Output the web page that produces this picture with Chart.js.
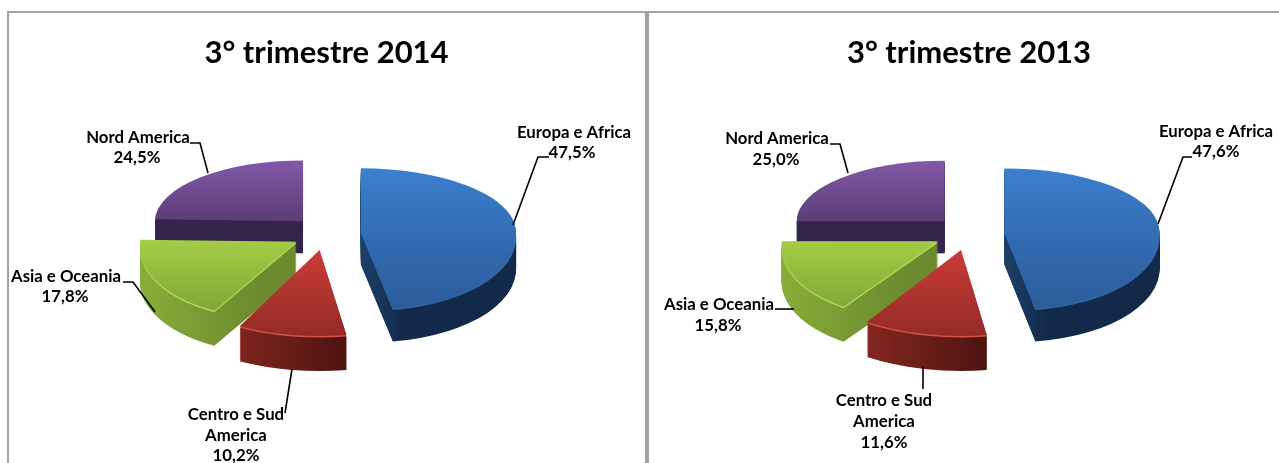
<!DOCTYPE html>
<html><head><meta charset="utf-8">
<style>
html,body{margin:0;padding:0;background:#fff;width:1279px;height:463px;overflow:hidden}
canvas{position:absolute;top:0}
.rule{position:absolute;background:#a3a3a3}
</style>
<script src="https://cdn.jsdelivr.net/npm/chart.js@4/dist/chart.umd.min.js"></script>
</head><body>
<div class="rule" style="left:7px;top:11px;width:2px;height:452px"></div>
<div class="rule" style="left:7px;top:11px;width:1272px;height:2px"></div>
<div class="rule" style="left:645px;top:11px;width:4px;height:452px"></div>
<canvas id="a" style="left:0"></canvas>
<canvas id="b" style="left:659px"></canvas>
<script>
// ---- data ----
const categories = ['Europa e Africa', 'Centro e Sud America', 'Asia e Oceania', 'Nord America'];
const values2014 = [47.5, 10.2, 17.8, 24.5];
const values2013 = [47.6, 11.6, 15.8, 25.0];
const title2014 = '3° trimestre 2014';
const title2013 = '3° trimestre 2013';
const labelLines = [['Europa e Africa'], ['Centro e Sud', 'America'], ['Asia e Oceania'], ['Nord America']];

// ---- styling / layout ----
const FONT = 'Lato, "Open Sans", sans-serif';
const topColors = [['#3b7fcf', '#2c5c9a'], ['#cb3c38', '#932a27'], ['#a2cc45', '#7ba336'], ['#8259a8', '#5c3c78']];
const topRange = [[-1, 1], [0, 1], [0, 1], [-1, 0]];
const sideColors = [['#1d4068', '#12294a'], ['#82251f', '#4a1310'], ['#8aae39', '#6c8b2e'], ['#35254d', '#33234a']];
const sideRange = [[0, 0.22], [-0.5, 0.18], [-1, -0.2], [-1, 1]];
const rimColors = ['#2f69a8', '#d4504a', '#b6dc55', '#35254d'];
const sliceRadius = [155, 172, 156, 148];
const sliceDepth = [33, 35, 35, 32];
const sliceShear = [0.1, 0, -0.14, 0];
const paintOrder = [3, 0, 2, 1];
const EXPLODE = 33, SQUASH = 0.46, SQUASH_UP = 0.41, SQUASH_DOWN = 0.5;

const nudge2014 = [[3, 1], [0, 3], [0, 2], [1, 0]];
const nudge2013 = [[4.5, 1], [1, 3], [0, 2], [1, 0]];
const labelPos2014 = [[574, 133], [236, 415], [66, 277], [138, 138]];
const pctPos2014 = [[572, 153], [236, 456], [65, 297], [137, 158]];
const leaders2014 = [[[513, 225], [538, 157], [549, 157]], [[292, 369], [285, 413]], [[155, 312], [133, 282], [123, 282]], [[208, 173], [200, 143], [190, 143]]];
const labelPos2013 = [[1216, 132], [884, 401], [719, 305], [777, 139]];
const pctPos2013 = [[1216, 152], [884, 443], [718, 326], [776, 160]];
const leaders2013 = [[[1158, 224], [1183, 157], [1192, 157]], [[923, 367], [923, 389]], [[794, 309], [775, 309]], [[848, 173], [840, 144], [830, 144]]];

const pct = v => v.toFixed(1).replace('.', ',') + '%';

const pie3d = {
  id: 'pie3d',
  beforeDatasetDraw(chart, args) {
    const ctx = chart.ctx, arcs = chart.getDatasetMeta(args.index).data;
    const o = chart.options.plugins.pie3d;
    paintOrder.forEach(i => {
      const arc = arcs[i];
      const cx = arc.x, cy = arc.y, R = arc.outerRadius;
      const mid = (arc.startAngle + arc.endAngle) / 2;
      const ax = cx + o.shift + EXPLODE * Math.cos(mid) + o.nudge[i][0];
      const ay = cy + EXPLODE * Math.sin(mid) * SQUASH + o.nudge[i][1];
      const k = sliceRadius[i] / R;
      const base = arc.options.backgroundColor;
      const paint = (dy, fillFor) => {
        [[SQUASH_UP, -1], [SQUASH_DOWN, 1]].forEach(([s, side]) => {
          ctx.save();
          ctx.beginPath();
          if (side < 0) ctx.rect(0, -10, chart.width, ay + dy + 10.5);
          else ctx.rect(0, ay + dy, chart.width, chart.height);
          ctx.clip();
          ctx.translate(ax, ay + dy);
          if (side > 0) ctx.transform(1, 0, sliceShear[i], 1, 0, 0);
          ctx.scale(k, k * s);
          ctx.translate(-cx, -cy);
          arc.options.backgroundColor = fillFor(ctx, cx, cy, R);
          arc.draw(ctx);
          ctx.restore();
        });
      };
      const sideFill = (c, x0, y0, r) => {
        const g = c.createLinearGradient(x0 + r * sideRange[i][0], 0, x0 + r * sideRange[i][1], 0);
        g.addColorStop(0, sideColors[i][0]);
        g.addColorStop(1, sideColors[i][1]);
        return g;
      };
      const topFill = (c, x0, y0, r) => {
        const g = c.createLinearGradient(0, y0 + r * topRange[i][0], 0, y0 + r * topRange[i][1]);
        g.addColorStop(0, topColors[i][0]);
        g.addColorStop(1, topColors[i][1]);
        return g;
      };
      for (let d = sliceDepth[i]; d > 1; d--) paint(d, sideFill);
      paint(1.5, () => rimColors[i]);
      paint(0, topFill);
      arc.options.backgroundColor = base;
    });
    return false;
  },
  afterDatasetsDraw(chart) {
    const o = chart.options.plugins.pie3d, ctx = chart.ctx, left = o.left;
    ctx.save();
    ctx.strokeStyle = '#000';
    ctx.lineWidth = 1.6;
    o.leaders.forEach(pts => {
      ctx.beginPath();
      pts.forEach((p, j) => j ? ctx.lineTo(p[0] - left, p[1]) : ctx.moveTo(p[0] - left, p[1]));
      ctx.stroke();
    });
    ctx.fillStyle = '#000';
    ctx.font = 'bold 16.8px ' + FONT;
    ctx.textAlign = 'center';
    ctx.textBaseline = 'middle';
    labelLines.forEach((lines, i) => {
      lines.forEach((t, j) => ctx.fillText(t, o.labelPos[i][0] - left, o.labelPos[i][1] + j * 20.5));
      ctx.fillText(pct(o.values[i]), o.pctPos[i][0] - left, o.pctPos[i][1]);
    });
    ctx.restore();
  }
};

function build(id, width, left, title, values, labelPos, pctPos, leaders, shift, nudge) {
  const el = document.getElementById(id);
  el.width = width; el.height = 463;
  el.style.width = width + 'px'; el.style.height = '463px';
  new Chart(el, {
    type: 'pie',
    data: { labels: categories, datasets: [{ data: values, backgroundColor: topColors.map(c => c[0]), borderWidth: 0 }] },
    options: {
      responsive: false, animation: false, radius: 155,
      layout: { padding: { bottom: 70 } },
      plugins: {
        legend: { display: false }, tooltip: { enabled: false },
        title: { display: true, text: title, color: '#000', padding: { top: 34, bottom: 0 }, font: { family: FONT, size: 31, weight: 'bold' } },
        pie3d: { left, labelPos, pctPos, leaders, values, shift, nudge }
      }
    },
    plugins: [pie3d]
  });
}
build('a', 653, 0, title2014, values2014, labelPos2014, pctPos2014, leaders2014, -1.5, nudge2014);
build('b', 620, 659, title2013, values2013, labelPos2013, pctPos2013, leaders2013, -2, nudge2013);
</script>
</body></html>
